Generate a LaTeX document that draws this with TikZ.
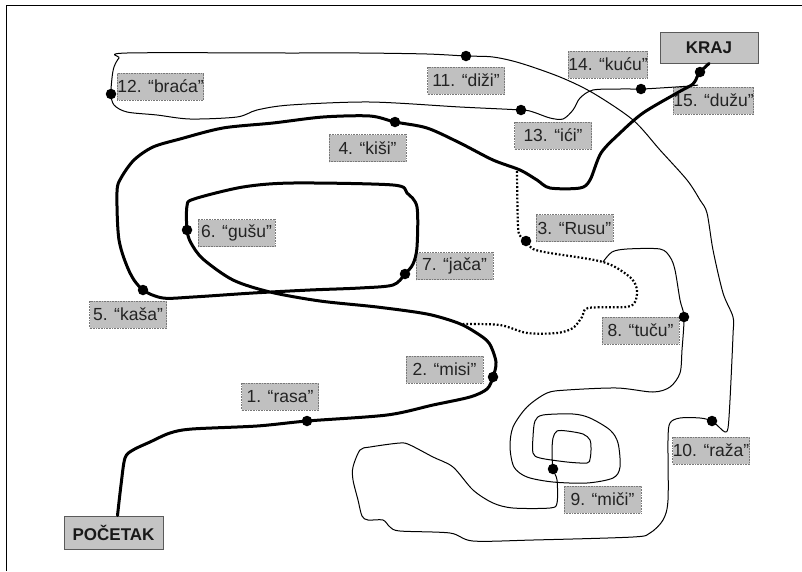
\documentclass[tikz,border=0pt]{standalone}
\usepackage{fontspec}
\setmainfont{Liberation Sans}
\begin{document}
\begin{tikzpicture}[x=1pt,y=-1pt,
  lab/.style={draw={rgb,255:red,120;green,120;blue,120},densely dotted,line width=0.6pt,
    fill={rgb,255:red,192;green,192;blue,192},minimum width=77pt,minimum height=27pt,
    inner sep=0pt,text={rgb,255:red,35;green,35;blue,35},font=\fontsize{17.5}{19}\selectfont},
  endbox/.style={draw={rgb,255:red,90;green,90;blue,90},line width=1pt,
    fill={rgb,255:red,196;green,196;blue,196},inner sep=0pt,
    font=\fontsize{17}{19}\selectfont\bfseries,text={rgb,255:red,25;green,25;blue,25}},
  dot/.style={circle,fill=black,inner sep=0pt,minimum size=10.5pt},
  thick path/.style={line width=3pt,line join=round,line cap=round},
  thin path/.style={line width=1pt,line join=round},
  dot path/.style={line width=2.2pt,dash pattern=on 1.8pt off 2pt}]
\useasboundingbox (0,0) rectangle (802,571);
\draw[line width=1.6pt] (6.5,571) -- (6.5,5.5) -- (802,5.5);

% boxes
\node[endbox,minimum width=99pt,minimum height=33pt] (pocetak) at (113.5,532.5) {POČETAK};
\node[endbox,minimum width=98pt,minimum height=31pt] (kraj) at (709,47.5) {KRAJ};
\node[lab] (l1) at (280,396.5) {1. “rasa”};
\node[lab] (l2) at (444.5,369.5) {2. “misi”};
\node[lab] (l3) at (574.5,228) {3. “Rusu”};
\node[lab] (l4) at (367.5,148) {4. “kiši”};
\node[lab] (l5) at (128,314.5) {5. “kaša”};
\node[lab] (l6) at (236.5,233) {6. “gušu”};
\node[lab] (l7) at (454.5,266) {7. “jača”};
\node[lab] (l8) at (640.5,330.5) {8. “tuču”};
\node[lab] (l9) at (602.5,499.5) {9. “miči”};
\node[lab] (l10) at (711,450.5) {10. “raža”};
\node[lab] (l11) at (466,80.5) {11. “diži”};
\node[lab] (l12) at (160.5,86.5) {12. “braća”};
\node[lab] (l13) at (553,135.5) {13. “ići”};
\node[lab] (l14) at (608,64.5) {14. “kuću”};
\node[lab] (l15) at (713.5,100.5) {15. “dužu”};

% stop points
\coordinate (p1) at (307,421);
\coordinate (p2) at (493,377);
\coordinate (p3) at (526,241);
\coordinate (p4) at (395,122);
\coordinate (p5) at (143,290);
\coordinate (p6) at (187,230);
\coordinate (p7) at (405,274);
\coordinate (p8) at (684,317);
\coordinate (p9) at (553,469);
\coordinate (p10) at (712,421);
\coordinate (p11) at (466,56);
\coordinate (p12) at (111,94);
\coordinate (p13) at (521,110);
\coordinate (p14) at (641,89);
\coordinate (p15) at (700,72);
\coordinate (s0) at ([xshift=4pt]pocetak.north);
\coordinate (j1) at (603,262);
\coordinate (j2) at (517,171);
\coordinate (j3) at (463,324);
\coordinate (j4) at (698,85);

% thick route
\draw[thick path] plot[smooth,tension=0.5] coordinates {
 (s0) (121,485) (125,458) (133,450) (150,442) (170,433) (192,429) (257,426) (p1)
 (387,415) (433,405) (470,397) (487,389) (p2) (496,362) (489,343) (475,332) (458,323)
 (427,314) (377,307) (320,301) (270,292) (233,280) (203,259) (191,243) (p6)
 (187,206) (194,199) (243,187) (293,183) (393,185) (407,193) (417,207) (417,247)
 (413,264) (p7) (393,285) (360,288) (310,290) (253,293) (193,297) (163,298) (p5)
 (130,273) (119,240) (117,192) (121,178) (134,160) (153,147) (180,139) (223,128)
 (273,123) (323,117) (370,116) (p4) (427,128) (460,143) (493,160) (520,170) (537,180)
 (550,188) (580,188) (590,180) (601,153) (620,133) (643,113) (677,93) (693,84) (697,77)
 (p15) (kraj.south)};

% dotted route
\draw[dot path] plot[smooth,tension=0.5] coordinates {
 (j2) (518,227) (521,237) (p3) (533,249) (550,253) (583,258) (j1) (617,268) (632,279)
 (637,290) (635,302) (626,307) (588,308) (582,317) (573,328) (557,333) (527,333)
 (500,325) (j3)};

% thin route
\draw[thin path] plot[smooth,tension=0.5] coordinates {
 (j1) (612,252) (627,249) (660,249) (670,257) (675,270) (680,300) (p8) (682,350)
 (680,373) (670,387) (653,392) (617,388) (567,390) (547,393) (527,407) (513,427)
 (510,447) (514,467) (527,477) (553,482) (587,483) (613,478) (620,467) (618,443)
 (610,430) (590,418) (573,414) (543,415) (535,421) (533,437) (533,453) (540,458)
 (567,462) (587,463) (590,459) (591,450) (590,440) (583,434) (567,431) (557,431)
 (553,438) (552,452) (p9) (557,480) (557,503) (550,508) (513,508) (493,503)
 (473,490) (453,467) (433,457) (410,445) (400,443) (370,447) (360,450) (353,467)
 (353,480) (358,500) (362,516) (368,520) (383,520) (390,527) (400,531) (450,533)
 (473,541) (533,540) (633,537) (650,533) (663,520) (668,500) (668,440) (670,423)
 (680,418) (700,418) (p10) (720,428) (725,432) (728,428) (730,400) (733,335)
 (733,317) (723,293) (713,250) (707,213) (700,200) (687,180) (660,150) (633,120)
 (593,93) (560,77) (520,63) (493,57) (p11) (427,54) (360,53) (290,53) (127,53)
 (119,58) (114,67) (112,78) (p12) (114,105) (127,112) (157,115) (190,119) (237,117)
 (257,110) (290,105) (370,102) (460,107) (p13) (533,112) (550,118) (563,119)
 (573,110) (580,98) (593,90) (620,89) (p14) (660,88) (690,86) (j4)};

% dots
\foreach \i in {1,...,15} {\node[dot] (d\i) at (p\i) {};}
\end{tikzpicture}
\end{document}
